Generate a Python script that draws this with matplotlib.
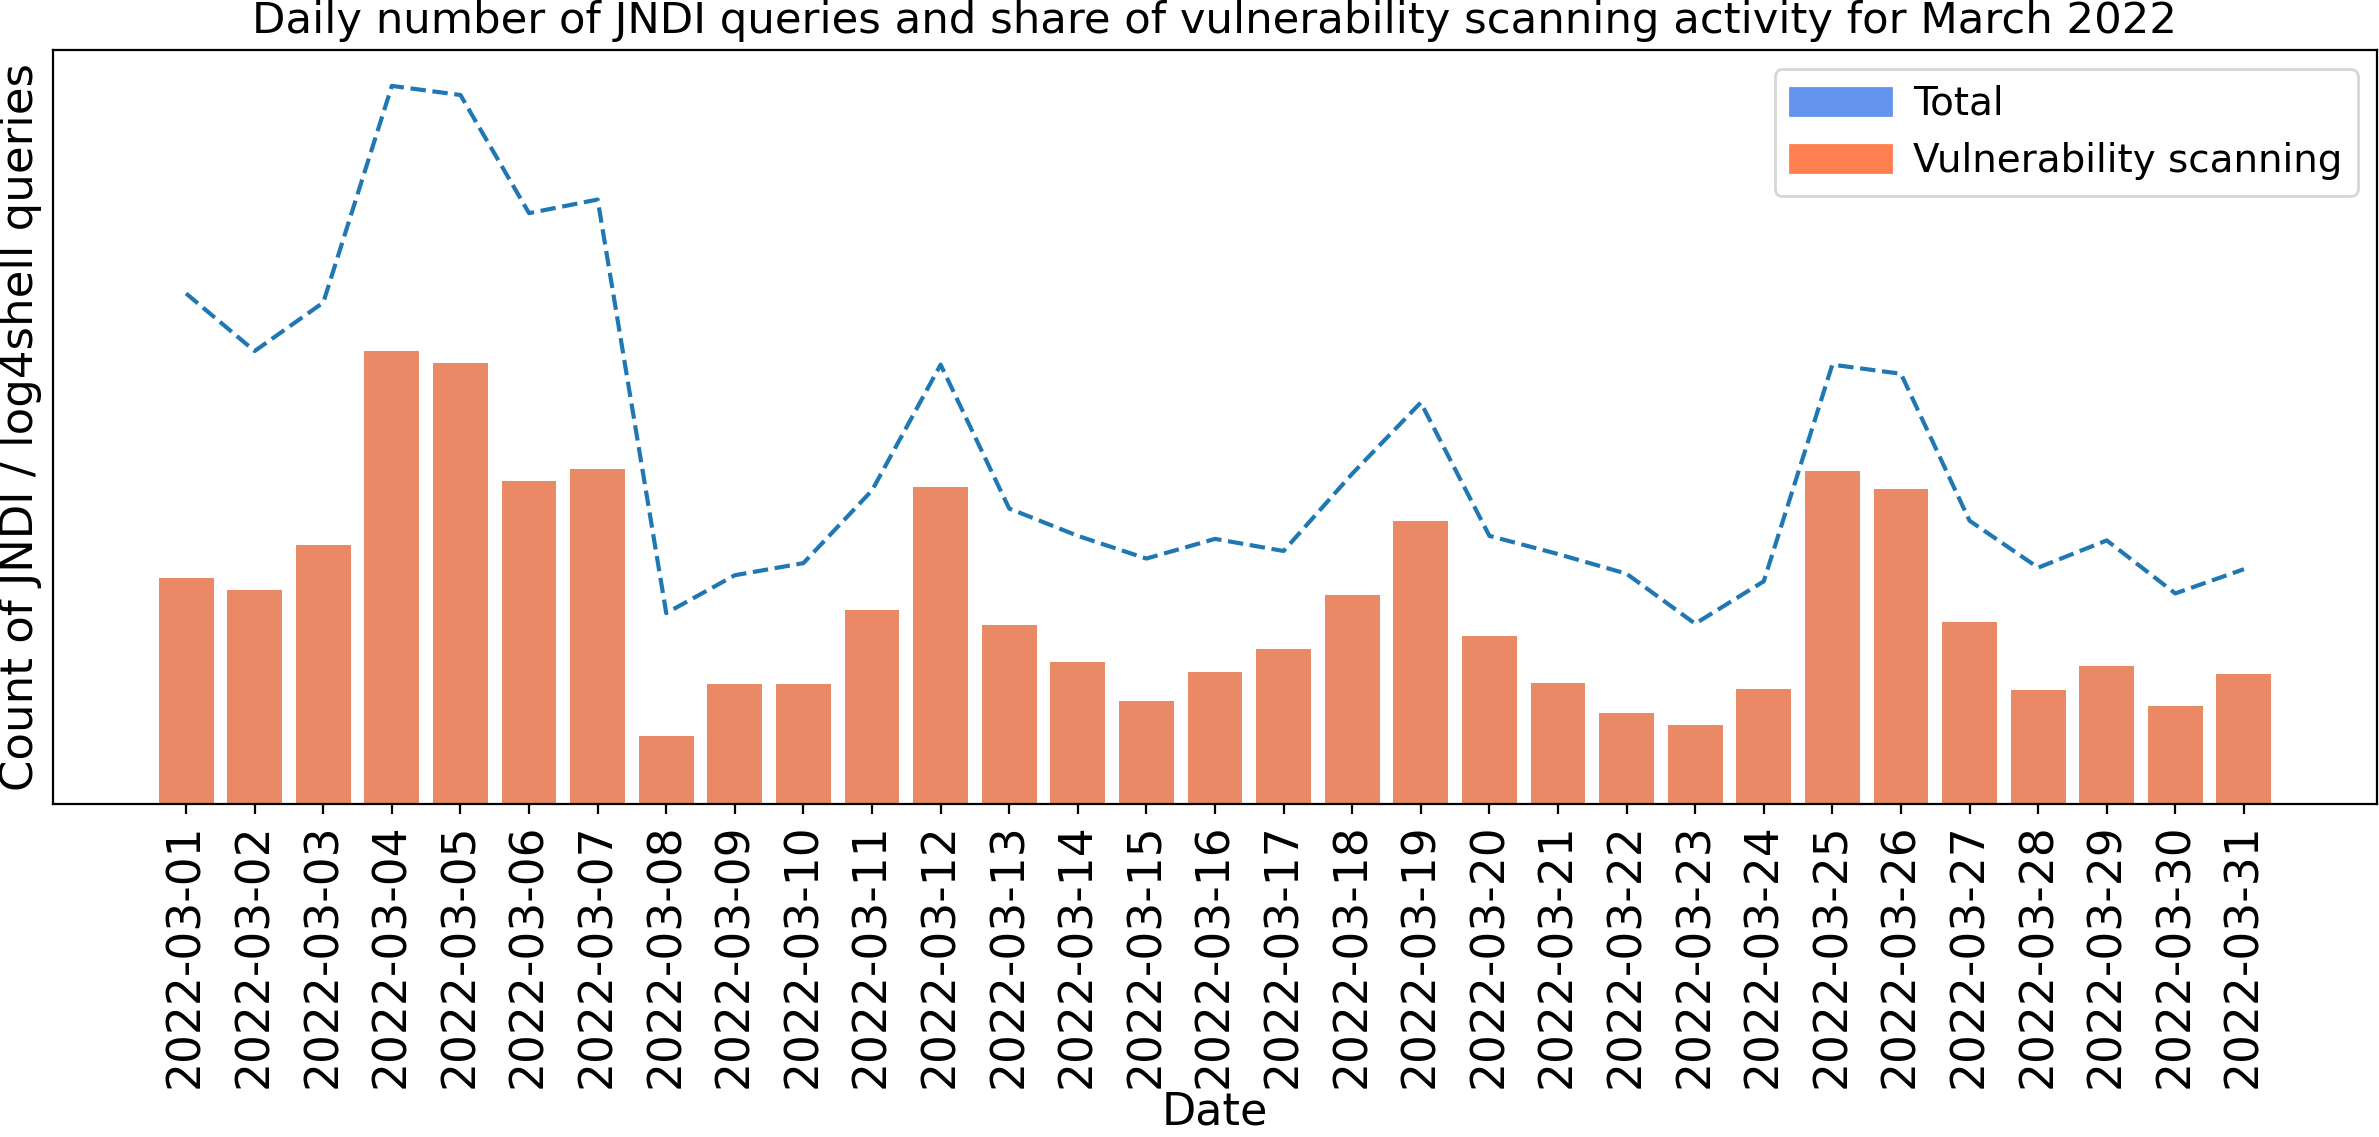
import matplotlib
matplotlib.use("Agg")
import matplotlib.pyplot as plt
import matplotlib.patches as ptch

# daily values (no y ticks, so arbitrary units)
dates = ["2022-03-%02d" % d for d in range(1, 32)]
total = [337, 299, 331, 474, 468, 390, 399, 126, 151, 159, 207, 290, 195, 177, 162, 175,
         167, 218, 265, 177, 165, 152, 119, 147, 290, 284, 187, 156, 174, 139, 155]
scanning = [149, 141, 171, 299, 291, 213, 221, 45, 79, 79, 128, 209, 118, 94, 68, 87,
            102, 138, 187, 111, 80, 60, 52, 76, 220, 208, 120, 75, 91, 65, 86]

W, H = 2379, 1137
fig, ax = plt.subplots(figsize=(W / 200, H / 200), dpi=200)
fig.subplots_adjust(left=53 / W, right=2377 / W, top=1 - 50 / H, bottom=1 - 804 / H)

ax.bar(dates, scanning, color="#E98966", width=0.8)
ax.plot(dates, total, linestyle="--", color="#1f77b4", linewidth=1.5)

ax.set_yticks([])
ax.tick_params(axis="x", labelrotation=90, labelsize=16.4)
ax.set_xlabel("Date", fontsize=16, labelpad=1)
ax.set_ylabel("Count of JNDI / log4shell queries", fontsize=16.2, labelpad=4)
ax.set_title("Daily number of JNDI queries and share of vulnerability scanning activity for March 2022",
             fontsize=15.6)

handles = [ptch.Patch(color="cornflowerblue", label="Total"),
           ptch.Patch(color="coral", label="Vulnerability scanning")]
ax.legend(handles=handles, loc="upper right", fontsize=14, handlelength=2.6, handletextpad=0.55)

fig.savefig("out.png", dpi=200)
